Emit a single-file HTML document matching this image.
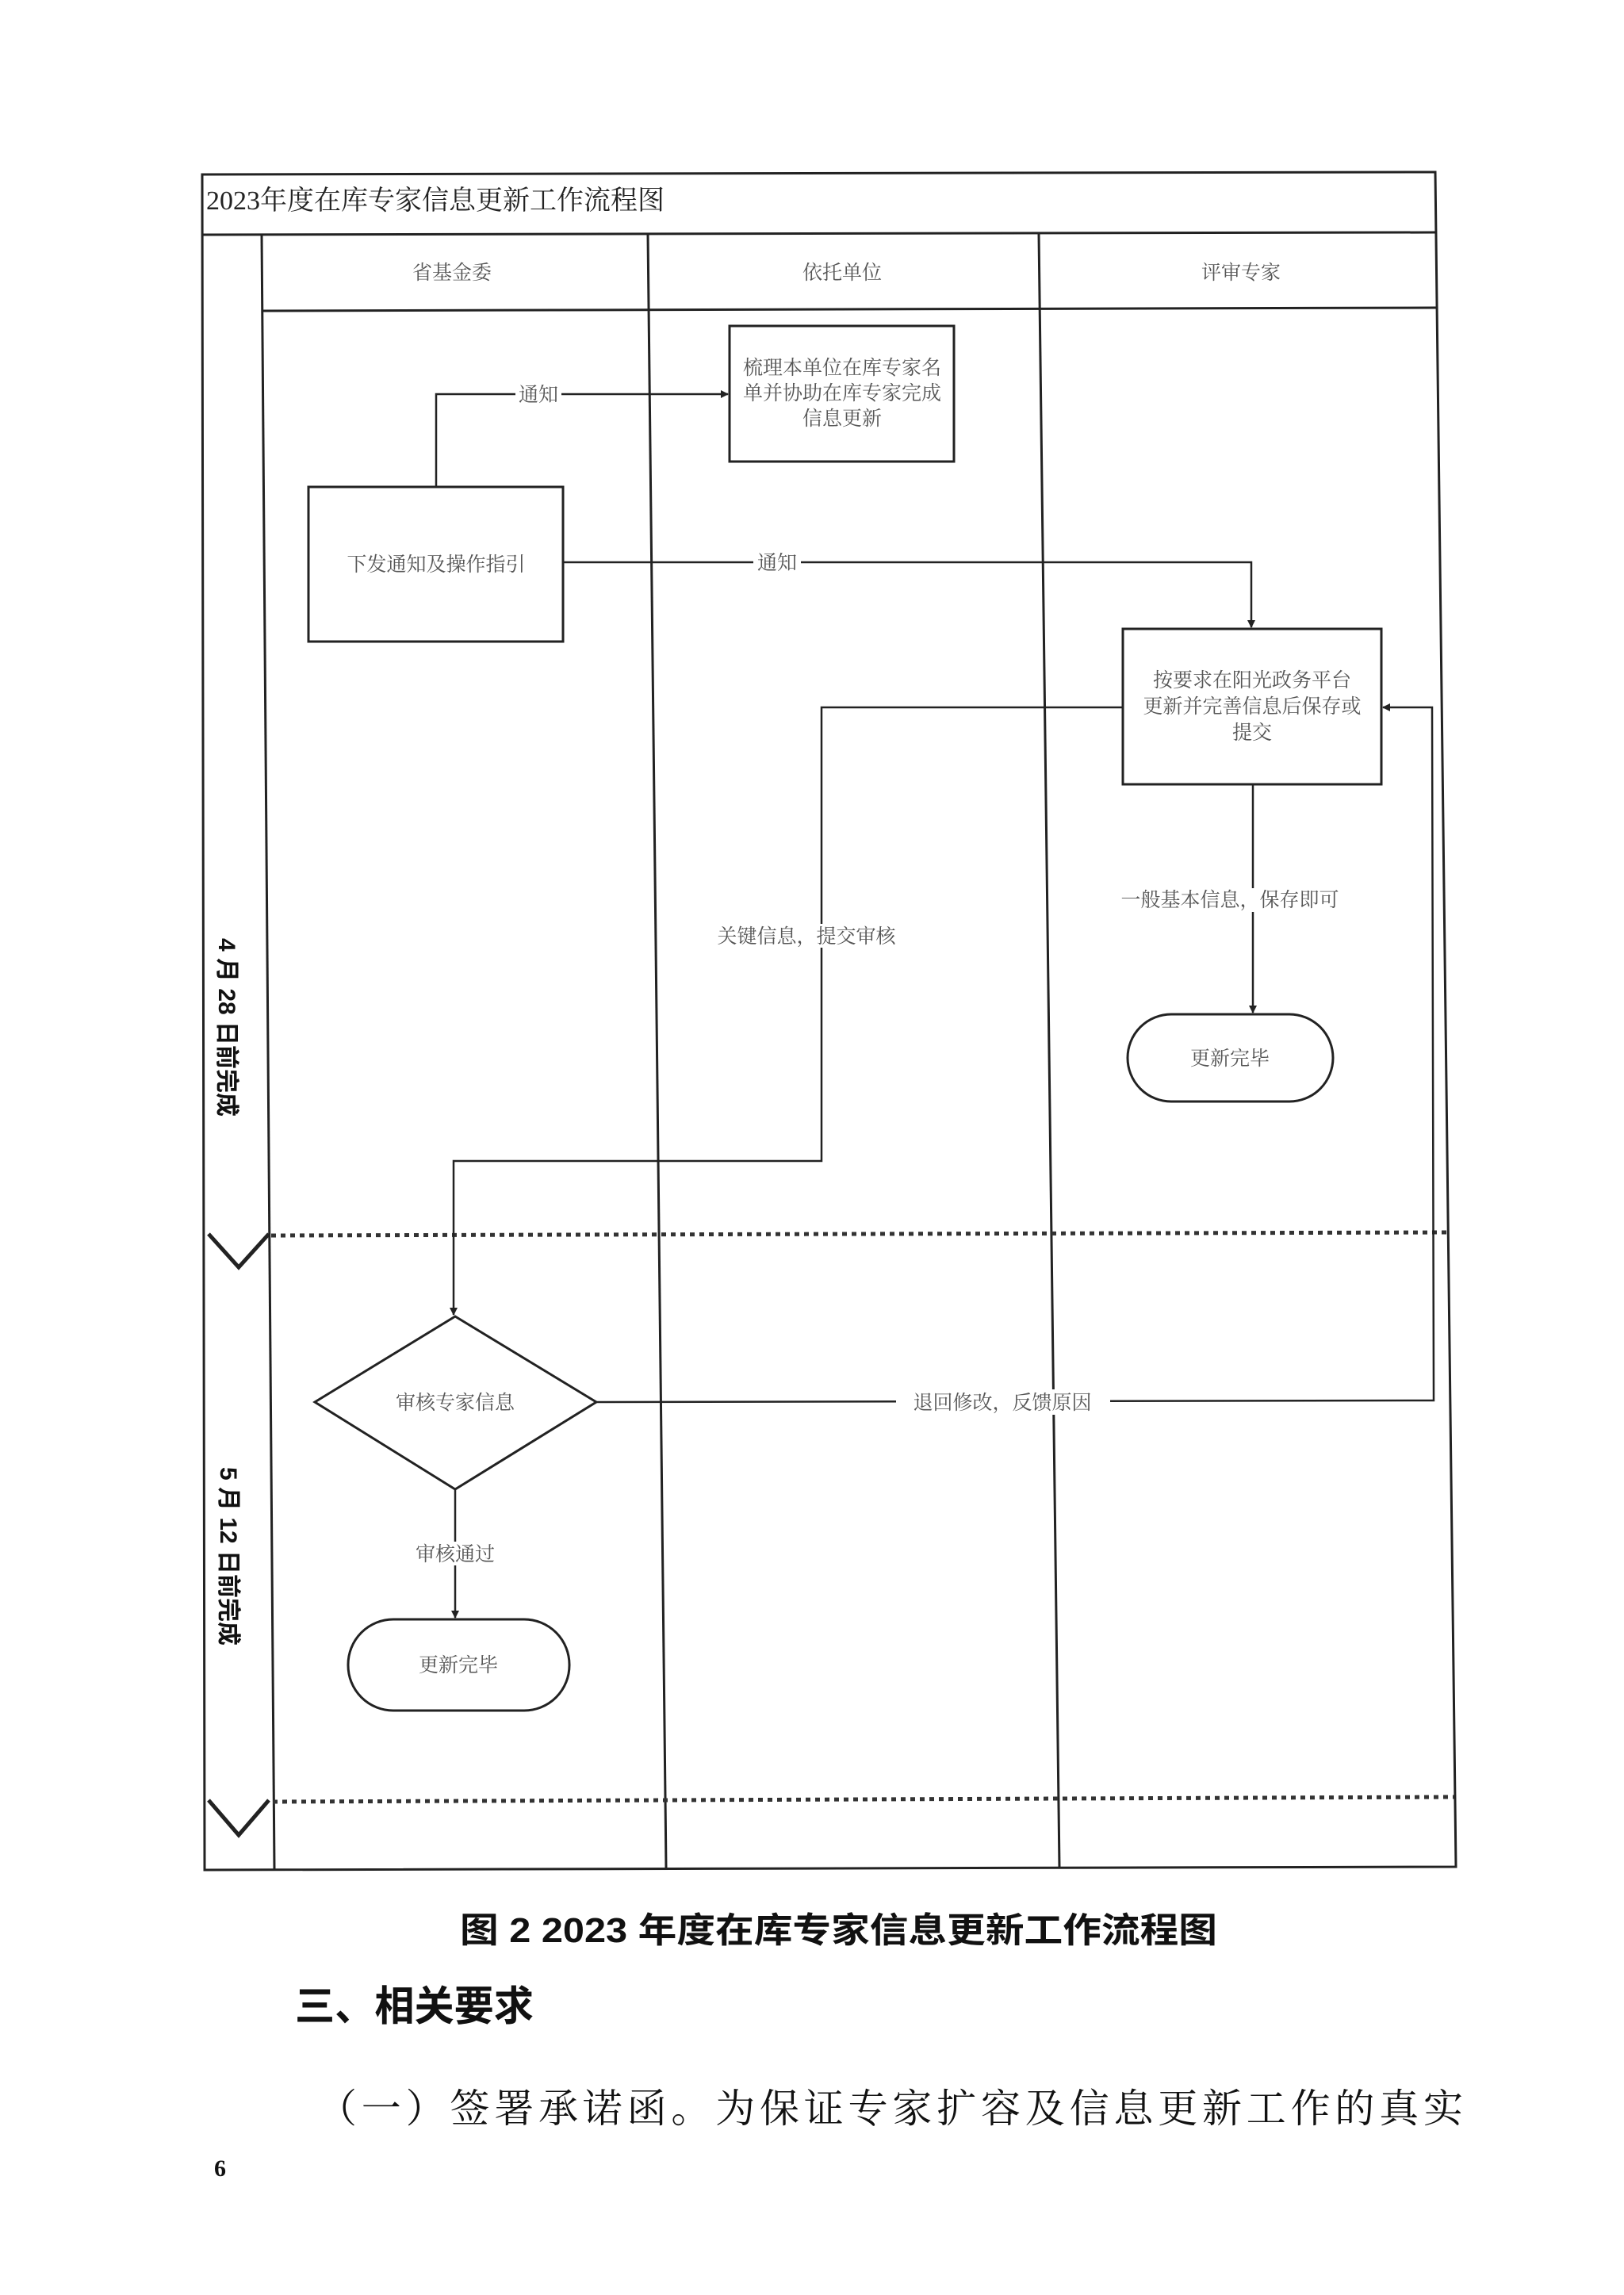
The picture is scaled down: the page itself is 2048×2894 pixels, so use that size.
<!DOCTYPE html>
<html><head><meta charset="utf-8"><style>
html,body{margin:0;padding:0;background:#fff;}
svg{display:block;}
.s{font-family:"Liberation Serif","Noto Serif CJK SC",serif;fill:#555;}
.b{font-family:"Liberation Sans","Noto Sans CJK SC",sans-serif;font-weight:bold;fill:#111;}
</style></head><body>
<svg width="2048" height="2894" viewBox="0 0 2048 2894" xmlns="http://www.w3.org/2000/svg">
<defs>
<marker id="a" markerWidth="10" markerHeight="10" refX="9" refY="5" orient="auto" markerUnits="userSpaceOnUse">
<path d="M0,0 L10,5 L0,10 z" fill="#222"/></marker>
</defs>
<g stroke="#222" fill="none" stroke-width="3">
<!-- frame -->
<path d="M255,220 L1810,217 L1836,2354 L258,2358 Z"/>
<line x1="255" y1="296" x2="1811" y2="293"/>
<line x1="330" y1="296" x2="346" y2="2358"/>
<line x1="817" y1="295" x2="840" y2="2356"/>
<line x1="1310" y1="294" x2="1336" y2="2355"/>
<line x1="330" y1="392" x2="1812" y2="388"/>
<!-- chevrons -->
<path d="M263,1556 L301,1598 L339,1556" stroke-width="5"/>
<path d="M263,2270 L301,2314 L339,2270" stroke-width="5"/>
</g>
<g stroke="#333" stroke-width="5" stroke-dasharray="6,6" fill="none">
<line x1="342" y1="1558" x2="1828" y2="1554"/>
<line x1="344" y1="2272" x2="1834" y2="2266"/>
</g>
<g stroke="#222" fill="#fff" stroke-width="3">
<rect x="920" y="411" width="283" height="171"/>
<rect x="389" y="614" width="321" height="195"/>
<rect x="1416" y="793" width="326" height="196"/>
<rect x="1422" y="1279" width="259" height="110" rx="55"/>
<polygon points="574,1660 752,1768 574,1878 397,1768"/>
<rect x="439" y="2042" width="279" height="115" rx="57"/>
</g>
<g stroke="#222" fill="none" stroke-width="2.5">
<polyline points="550,614 550,497 918,497" marker-end="url(#a)"/>
<polyline points="710,709 1578,709 1578,791" marker-end="url(#a)"/>
<polyline points="1416,892 1036,892 1036,1464 572,1464 572,1658" marker-end="url(#a)"/>
<polyline points="1580,989 1580,1277" marker-end="url(#a)"/>
<polyline points="752,1768 1808,1766 1806,892 1744,892" marker-end="url(#a)"/>
<polyline points="574,1878 574,2040" marker-end="url(#a)"/>
</g>
<g fill="#fff">
<rect x="650" y="484" width="58" height="28"/>
<rect x="950" y="696" width="60" height="28"/>
<rect x="1425" y="1120" width="250" height="30"/>
<rect x="900" y="1165" width="235" height="30"/>
<rect x="1130" y="1752" width="270" height="32"/>
<rect x="520" y="1944" width="110" height="30"/>
</g>
<g class="s" font-size="25" text-anchor="middle">
<text x="570" y="352">省基金委</text>
<text x="1062" y="352">依托单位</text>
<text x="1565" y="352">评审专家</text>
<text x="1062" y="472">梳理本单位在库专家名</text>
<text x="1062" y="504">单并协助在库专家完成</text>
<text x="1062" y="536">信息更新</text>
<text x="679" y="506">通知</text>
<text x="550" y="720">下发通知及操作指引</text>
<text x="980" y="718">通知</text>
<text x="1579" y="866">按要求在阳光政务平台</text>
<text x="1579" y="899">更新并完善信息后保存或</text>
<text x="1579" y="932">提交</text>
<text x="1551" y="1143">一般基本信息，保存即可</text>
<text x="1017" y="1189">关键信息，提交审核</text>
<text x="1551" y="1343">更新完毕</text>
<text x="574" y="1777">审核专家信息</text>
<text x="1264" y="1777">退回修改，反馈原因</text>
<text x="574" y="1968">审核通过</text>
<text x="578" y="2108">更新完毕</text>
</g>
<text class="s" x="260" y="264" font-size="34" style="fill:#222">2023年度在库专家信息更新工作流程图</text>
<text class="b" x="0" y="0" font-size="30" transform="translate(276,1183) rotate(90)">4 月 28 日前完成</text>
<text class="b" x="0" y="0" font-size="30" transform="translate(278,1850) rotate(90)">5 月 12 日前完成</text>
<text class="b" x="580" y="2449" font-size="44" textLength="955" lengthAdjust="spacingAndGlyphs">图 2 2023 年度在库专家信息更新工作流程图</text>
<text class="b" x="372" y="2548" font-size="52" textLength="301" lengthAdjust="spacingAndGlyphs">三、相关要求</text>
<text x="400" y="2676" font-size="50" textLength="1445" lengthAdjust="spacing" style="font-family:'Liberation Serif','Noto Serif CJK SC',serif;fill:#111">（一）签署承诺函。为保证专家扩容及信息更新工作的真实</text>
<text x="270" y="2744" font-size="30" style="font-family:'Liberation Serif',serif;font-weight:bold;fill:#111">6</text>
</svg>
</body></html>
